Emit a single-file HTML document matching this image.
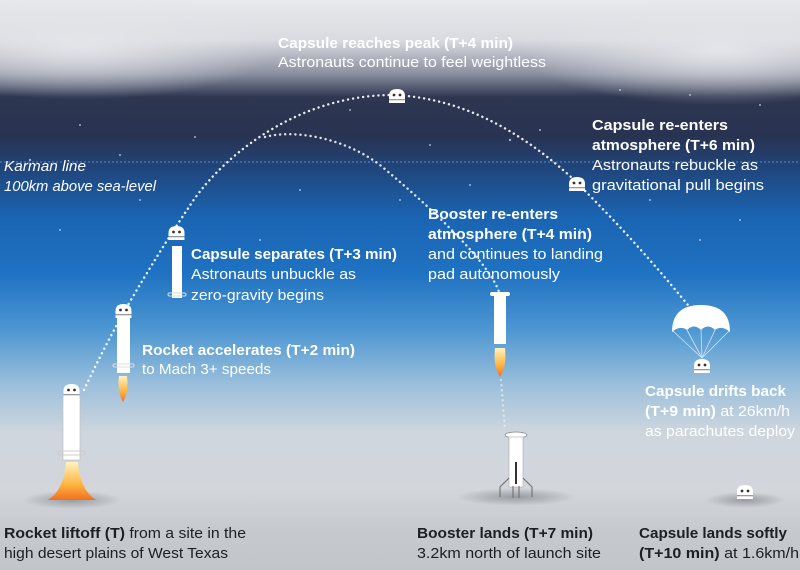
<!DOCTYPE html>
<html><head><meta charset="utf-8"><style>
html,body{margin:0;padding:0;width:800px;height:570px;overflow:hidden;background:#c8cbd0}
svg{display:block}
text{font-family:"Liberation Sans",sans-serif;font-size:14.5px}
.w{fill:#fff}.b{font-weight:bold}.d{fill:#1c1f26}
</style></head><body>
<svg width="800" height="570" viewBox="0 0 800 570" xmlns="http://www.w3.org/2000/svg">
<defs>
<linearGradient id="sky" x1="0" y1="0" x2="0" y2="1">
<stop offset="0" stop-color="#e8e9ec"/>
<stop offset="0.07" stop-color="#d9dbe0"/>
<stop offset="0.13" stop-color="#8a8fa0"/>
<stop offset="0.17" stop-color="#2e3650"/>
<stop offset="0.24" stop-color="#283352"/>
<stop offset="0.30" stop-color="#20477e"/>
<stop offset="0.38" stop-color="#1a64b2"/>
<stop offset="0.48" stop-color="#1f72c2"/>
<stop offset="0.58" stop-color="#4e97d2"/>
<stop offset="0.68" stop-color="#9fc1dc"/>
<stop offset="0.76" stop-color="#cfd6de"/>
<stop offset="0.86" stop-color="#d3d6db"/>
<stop offset="0.93" stop-color="#c6c9ce"/>
<stop offset="1" stop-color="#c2c5ca"/>
</linearGradient>
<radialGradient id="haze" cx="0.5" cy="0.5" r="0.5">
<stop offset="0" stop-color="#e4e5e9" stop-opacity="1"/>
<stop offset="1" stop-color="#e4e5e9" stop-opacity="0"/>
</radialGradient>
<radialGradient id="shadow" cx="0.5" cy="0.5" r="0.5">
<stop offset="0" stop-color="#8a8d93" stop-opacity="0.8"/>
<stop offset="1" stop-color="#8a8d93" stop-opacity="0"/>
</radialGradient>
<linearGradient id="flame" x1="0" y1="0" x2="0" y2="1">
<stop offset="0" stop-color="#fff3c0"/>
<stop offset="0.6" stop-color="#ffb340"/>
<stop offset="1" stop-color="#f07020"/>
</linearGradient>
<g id="cap">
<path d="M-8 5 L-8 -2 Q-8 -9 0 -9 Q8 -9 8 -2 L8 5 Z" fill="#fff"/>
<circle cx="-3" cy="-3" r="1.4" fill="#333"/><circle cx="3" cy="-3" r="1.4" fill="#333"/>
<rect x="-8" y="1" width="16" height="1.3" fill="#999"/>
</g>
</defs>
<rect width="800" height="570" fill="url(#sky)"/>
<ellipse cx="80" cy="45" rx="200" ry="55" fill="url(#haze)"/>
<ellipse cx="720" cy="50" rx="200" ry="55" fill="url(#haze)"/>
<line x1="0" y1="162" x2="800" y2="162" stroke="#4a7fd0" stroke-width="1.5" stroke-dasharray="2 2" opacity="0.8"/>
<g fill="#cfe2ff" opacity="0.7">
<circle cx="80" cy="125" r="1"/><circle cx="30" cy="160" r="1.2"/><circle cx="120" cy="155" r="1"/><circle cx="195" cy="137" r="1"/><circle cx="350" cy="110" r="1"/><circle cx="430" cy="145" r="1"/><circle cx="510" cy="140" r="1.2"/><circle cx="540" cy="130" r="1"/><circle cx="620" cy="90" r="1"/><circle cx="690" cy="95" r="1"/><circle cx="760" cy="105" r="1"/><circle cx="300" cy="190" r="1"/><circle cx="470" cy="185" r="1"/><circle cx="650" cy="200" r="1"/><circle cx="740" cy="220" r="1"/><circle cx="60" cy="230" r="1"/><circle cx="260" cy="240" r="1"/><circle cx="700" cy="240" r="1"/><circle cx="580" cy="230" r="1"/><circle cx="400" cy="200" r="1"/><circle cx="140" cy="200" r="1"/>
</g>
<!-- trajectories -->
<g fill="none" stroke="#fff" stroke-width="2.4" stroke-linecap="round" stroke-dasharray="0.1 5">
<path d="M84 390 Q105 345 128 305 Q160 250 189 207 C215 165 290 95 393 95 C470 98 530 140 571 177 C620 225 660 270 700 320" opacity="0.9"/>
<path d="M265 137 C290 130 340 135 380 165 C440 215 490 265 499 292" opacity="0.85"/>
<path d="M501 380 L505 430" opacity="0.5"/>
</g>
<ellipse cx="72" cy="500" rx="50" ry="9" fill="url(#shadow)"/>
<ellipse cx="516" cy="497" rx="60" ry="9" fill="url(#shadow)"/>
<ellipse cx="745" cy="500" rx="40" ry="8" fill="url(#shadow)"/>
<!-- liftoff rocket -->
<path d="M66 462 L78 462 Q80 490 96 500 L48 500 Q64 490 66 462 Z" fill="url(#flame)"/>
<rect x="63" y="397" width="17" height="63" fill="#fff" stroke="#bbb" stroke-width="0.6"/>
<use href="#cap" x="71.5" y="393"/>
<rect x="58" y="451" width="27" height="4" rx="2" fill="none" stroke="#ccc"/>
<!-- accelerating rocket -->
<path d="M119 376 Q117 392 123 402 Q129 392 127 376 Z" fill="url(#flame)"/>
<rect x="117" y="318" width="13" height="55" fill="#fff"/>
<use href="#cap" x="123.5" y="313"/>
<rect x="113" y="364" width="21" height="3" rx="1.5" fill="none" stroke="#ddd"/>
<!-- separated -->
<use href="#cap" x="176.5" y="235"/>
<rect x="172" y="246" width="10" height="52" fill="#fff"/>
<rect x="168" y="293" width="18" height="3" rx="1.5" fill="none" stroke="#ddd"/>
<use href="#cap" x="397" y="98"/>
<use href="#cap" x="577" y="186"/>
<!-- booster reentry -->
<rect x="490" y="292" width="20" height="4" rx="2" fill="#fff"/>
<rect x="494" y="296" width="12" height="48" fill="#fff"/>
<path d="M495 348 Q493 365 500 377 Q507 365 505 348 Z" fill="url(#flame)"/>
<!-- booster landed -->
<ellipse cx="516" cy="435" rx="11" ry="3" fill="#fff" stroke="#888" stroke-width="0.8"/>
<rect x="509" y="437" width="14" height="50" fill="#fff" stroke="#aaa" stroke-width="0.6"/>
<rect x="515" y="462" width="2" height="22" fill="#333"/>
<path d="M509 478 L500 487 L500 497 M523 478 L532 487 L532 497 M513 486 L513 498 M519 486 L519 498" fill="none" stroke="#777" stroke-width="1.2"/>
<!-- parachute -->
<path d="M672 332 Q672 305 701 305 Q730 305 730 332 Q722 325 715 330 Q708 323 701 330 Q694 323 687 330 Q680 325 672 332 Z" fill="#fff"/>
<g stroke="#cfe6ff" stroke-width="0.8"><line x1="673" y1="331" x2="702" y2="358"/><line x1="687" y1="330" x2="702" y2="358"/><line x1="701" y1="330" x2="702" y2="358"/><line x1="715" y1="330" x2="702" y2="358"/><line x1="729" y1="331" x2="702" y2="358"/></g>
<use href="#cap" x="702" y="368"/>
<use href="#cap" x="745" y="494"/>
<!-- text -->
<text class="w b" x="278" y="48" textLength="235" lengthAdjust="spacingAndGlyphs">Capsule reaches peak (T+4 min)</text>
<text class="w" x="278" y="67" textLength="268" lengthAdjust="spacingAndGlyphs">Astronauts continue to feel weightless</text>
<text class="w" x="4" y="171" font-style="italic" textLength="82" lengthAdjust="spacingAndGlyphs">Karman line</text>
<text class="w" x="4" y="191" font-style="italic" textLength="152" lengthAdjust="spacingAndGlyphs">100km above sea-level</text>
<text class="w b" x="592" y="130" textLength="136" lengthAdjust="spacingAndGlyphs">Capsule re-enters</text>
<text class="w b" x="592" y="150" textLength="163" lengthAdjust="spacingAndGlyphs">atmosphere (T+6 min)</text>
<text class="w" x="592" y="170" textLength="166" lengthAdjust="spacingAndGlyphs">Astronauts rebuckle as</text>
<text class="w" x="592" y="190" textLength="172" lengthAdjust="spacingAndGlyphs">gravitational pull begins</text>
<text class="w b" x="428" y="219" textLength="130" lengthAdjust="spacingAndGlyphs">Booster re-enters</text>
<text class="w b" x="428" y="239" textLength="164" lengthAdjust="spacingAndGlyphs">atmosphere (T+4 min)</text>
<text class="w" x="428" y="259" textLength="175" lengthAdjust="spacingAndGlyphs">and continues to landing</text>
<text class="w" x="428" y="279" textLength="132" lengthAdjust="spacingAndGlyphs">pad autonomously</text>
<text class="w b" x="191" y="259" textLength="206" lengthAdjust="spacingAndGlyphs">Capsule separates (T+3 min)</text>
<text class="w" x="191" y="279" textLength="165" lengthAdjust="spacingAndGlyphs">Astronauts unbuckle as</text>
<text class="w" x="191" y="300" textLength="133" lengthAdjust="spacingAndGlyphs">zero-gravity begins</text>
<text class="w b" x="142" y="355" textLength="213" lengthAdjust="spacingAndGlyphs">Rocket accelerates (T+2 min)</text>
<text class="w" x="142" y="374" textLength="129" lengthAdjust="spacingAndGlyphs">to Mach 3+ speeds</text>
<text class="w b" x="645" y="396" textLength="141" lengthAdjust="spacingAndGlyphs">Capsule drifts back</text>
<text class="w" x="645" y="416" textLength="145" lengthAdjust="spacingAndGlyphs"><tspan font-weight="bold">(T+9 min)</tspan> at 26km/h</text>
<text class="w" x="645" y="436" textLength="150" lengthAdjust="spacingAndGlyphs">as parachutes deploy</text>
<text class="d" x="4" y="538" textLength="242" lengthAdjust="spacingAndGlyphs"><tspan font-weight="bold">Rocket liftoff (T)</tspan> from a site in the</text>
<text class="d" x="4" y="558" textLength="224" lengthAdjust="spacingAndGlyphs">high desert plains of West Texas</text>
<text class="d b" x="417" y="538" textLength="176" lengthAdjust="spacingAndGlyphs">Booster lands (T+7 min)</text>
<text class="d" x="417" y="558" textLength="184" lengthAdjust="spacingAndGlyphs">3.2km north of launch site</text>
<text class="d b" x="639" y="538" textLength="148" lengthAdjust="spacingAndGlyphs">Capsule lands softly</text>
<text class="d" x="639" y="558" textLength="160" lengthAdjust="spacingAndGlyphs"><tspan font-weight="bold">(T+10 min)</tspan> at 1.6km/h</text>
</svg>
</body></html>
